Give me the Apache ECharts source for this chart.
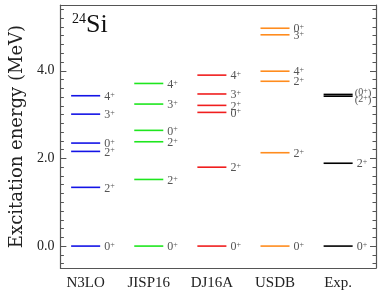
<!DOCTYPE html>
<html>
<head>
<meta charset="utf-8">
<script src="https://cdn.jsdelivr.net/npm/echarts@6/dist/echarts.min.js"></script>
<style>html,body{margin:0;padding:0;background:#fff}#c{width:382px;height:300px}</style>
</head>
<body>
<div id="c"></div>
<script>
const categories = ['N3LO', 'JISP16', 'DJ16A', 'USDB', 'Exp.'];
const yTickLabels = [0, 2, 4];

const n3loE = [0, 1.34, 2.16, 2.35, 3.01, 3.43];
const n3loJ = ['0+', '2+', '2+', '0+', '3+', '4+'];
const jisp16E = [0, 1.52, 2.38, 2.64, 3.24, 3.71];
const jisp16J = ['0+', '2+', '2+', '0+', '3+', '4+'];
const dj16aE = [0, 1.80, 3.05, 3.21, 3.47, 3.90];
const dj16aJ = ['0+', '2+', '0+', '2+', '3+', '4+'];
const usdbE = [0, 2.13, 3.76, 3.99, 4.82, 4.97];
const usdbJ = ['0+', '2+', '2+', '4+', '3+', '0+'];
const expE = [0, 1.89, 3.42, 3.46];
const expJ = ['0+', '2+', '(2+)', '(0+)'];

const columns = [
  { E: n3loE, J: n3loJ, color: '#1414e6' },
  { E: jisp16E, J: jisp16J, color: '#1ee61e' },
  { E: dj16aE, J: dj16aJ, color: '#f01e1e' },
  { E: usdbE, J: usdbJ, color: '#ff8c1e' },
  { E: expE, J: expJ, color: '#000000' }
];

function spreadLabels(E, minSep) {
  const idx = E.map((e, i) => i).sort((a, b) => E[a] - E[b]);
  const pos = idx.map(i => E[i]);
  for (let it = 0; it < 50; it++) {
    for (let k = 1; k < pos.length; k++) {
      const gap = pos[k] - pos[k - 1];
      if (gap < minSep) {
        const d = (minSep - gap) / 2;
        pos[k - 1] -= d; pos[k] += d;
      }
    }
  }
  const out = new Array(E.length);
  idx.forEach((i, k) => out[i] = pos[k]);
  return out;
}

function labelRich(j) {
  const m = j.match(/^(\(?)(\d)\+(\)?)$/);
  let s = '';
  if (m[1]) s += '{p|(}';
  s += '{' + (m[1] ? 'pn' : 'n') + '|' + m[2] + '}{s|+}';
  if (m[3]) s += '{p|)}';
  return s;
}

const labelRichStyles = {
  n: { fontFamily: 'Liberation Serif', fontSize: 12, fill: '#555', lineHeight: 12 },
  pn: { fontFamily: 'Liberation Serif', fontSize: 10, fill: '#555', lineHeight: 11 },
  p: { fontFamily: 'Liberation Serif', fontSize: 11, fill: '#555', lineHeight: 11 },
  s: { fontFamily: 'Liberation Serif', fontSize: 8, fill: '#555', verticalAlign: 'top', lineHeight: 12 }
};

const halfW = 0.23;
const series = columns.map((col, ci) => {
  const lab = spreadLabels(col.E, 0.16);
  const data = col.E.map((e, i) => [ci + 1, e, lab[i], col.J[i]]);
  return {
    type: 'custom',
    xAxisIndex: 0,
    yAxisIndex: 0,
    clip: false,
    data: data,
    renderItem: function (params, api) {
      const x = api.value(0), e = api.value(1), le = api.value(2);
      const j = data[params.dataIndex][3];
      const p1 = api.coord([x - halfW, e]);
      const p2 = api.coord([x + halfW, e]);
      const pl = api.coord([x + halfW, le]);
      const paren = j.charAt(0) === '(';
      return {
        type: 'group',
        children: [
          { type: 'line', shape: { x1: p1[0], y1: p1[1], x2: p2[0], y2: p2[1] },
            style: { stroke: col.color, lineWidth: 1.6 } },
          { type: 'text', x: pl[0] + (paren ? 2 : 4), y: pl[1] + 1,
            style: { text: labelRich(j), verticalAlign: 'middle', align: 'left',
              fill: '#555', rich: labelRichStyles } }
        ]
      };
    }
  };
});

const minorTicks = [];
for (let v = -4; v <= 54; v += 2) minorTicks.push(v / 10);

const frameColor = '#555';
const option = {
  animation: false,
  backgroundColor: '#fff',
  grid: { left: 56, right: 6, top: 5, bottom: 32 },
  xAxis: [
    { type: 'value', min: 0.6, max: 5.6, position: 'bottom',
      axisLine: { show: true, onZero: false, lineStyle: { color: frameColor, width: 1.2 } },
      axisTick: { show: false }, splitLine: { show: false },
      axisLabel: { customValues: [1, 2, 3, 4, 5], formatter: v => categories[Math.round(v) - 1],
        fontFamily: 'Liberation Serif', fontSize: 15, color: '#222', margin: 8 } },
    { type: 'value', min: 0.6, max: 5.6, position: 'top',
      axisLine: { show: true, onZero: false, lineStyle: { color: frameColor, width: 1.2 } },
      axisTick: { show: false }, splitLine: { show: false }, axisLabel: { show: false } }
  ],
  yAxis: [
    { type: 'value', min: -0.5, max: 5.5, position: 'left',
      axisLine: { show: true, onZero: false, lineStyle: { color: frameColor, width: 1.2 } },
      axisTick: { show: true, inside: true, length: 6, customValues: yTickLabels, lineStyle: { color: frameColor } },
      axisLabel: { customValues: yTickLabels, formatter: v => v.toFixed(1),
        fontFamily: 'Liberation Serif', fontSize: 14, color: '#222', margin: 6 },
      splitLine: { show: false },
      name: 'Excitation energy (MeV)', nameLocation: 'middle', nameGap: 34,
      nameTextStyle: { fontFamily: 'DejaVu Serif', fontSize: 18, color: '#222' } },
    { type: 'value', min: -0.5, max: 5.5, position: 'left',
      axisLine: { show: false, onZero: false },
      axisTick: { show: true, inside: true, length: 3.5, customValues: minorTicks, lineStyle: { color: frameColor } },
      axisLabel: { show: false }, splitLine: { show: false } },
    { type: 'value', min: -0.5, max: 5.5, position: 'right',
      axisLine: { show: true, onZero: false, lineStyle: { color: frameColor, width: 1.2 } },
      axisTick: { show: true, inside: true, length: 6, customValues: yTickLabels, lineStyle: { color: frameColor } },
      axisLabel: { show: false }, splitLine: { show: false } },
    { type: 'value', min: -0.5, max: 5.5, position: 'right',
      axisLine: { show: false, onZero: false },
      axisTick: { show: true, inside: true, length: 3.5, customValues: minorTicks, lineStyle: { color: frameColor } },
      axisLabel: { show: false }, splitLine: { show: false } }
  ],
  graphic: [
    { type: 'text', left: 72, top: 12,
      style: { text: '{a|24}{b|Si}',
        rich: {
          a: { fontFamily: 'Liberation Serif', fontSize: 14, fill: '#111', verticalAlign: 'top', lineHeight: 26 },
          b: { fontFamily: 'Liberation Serif', fontSize: 26, fill: '#111', lineHeight: 26 }
        } } }
  ],
  series: series
};

const chart = echarts.init(document.getElementById('c'), null, { renderer: 'canvas' });
chart.setOption(option);
</script>
</body>
</html>
